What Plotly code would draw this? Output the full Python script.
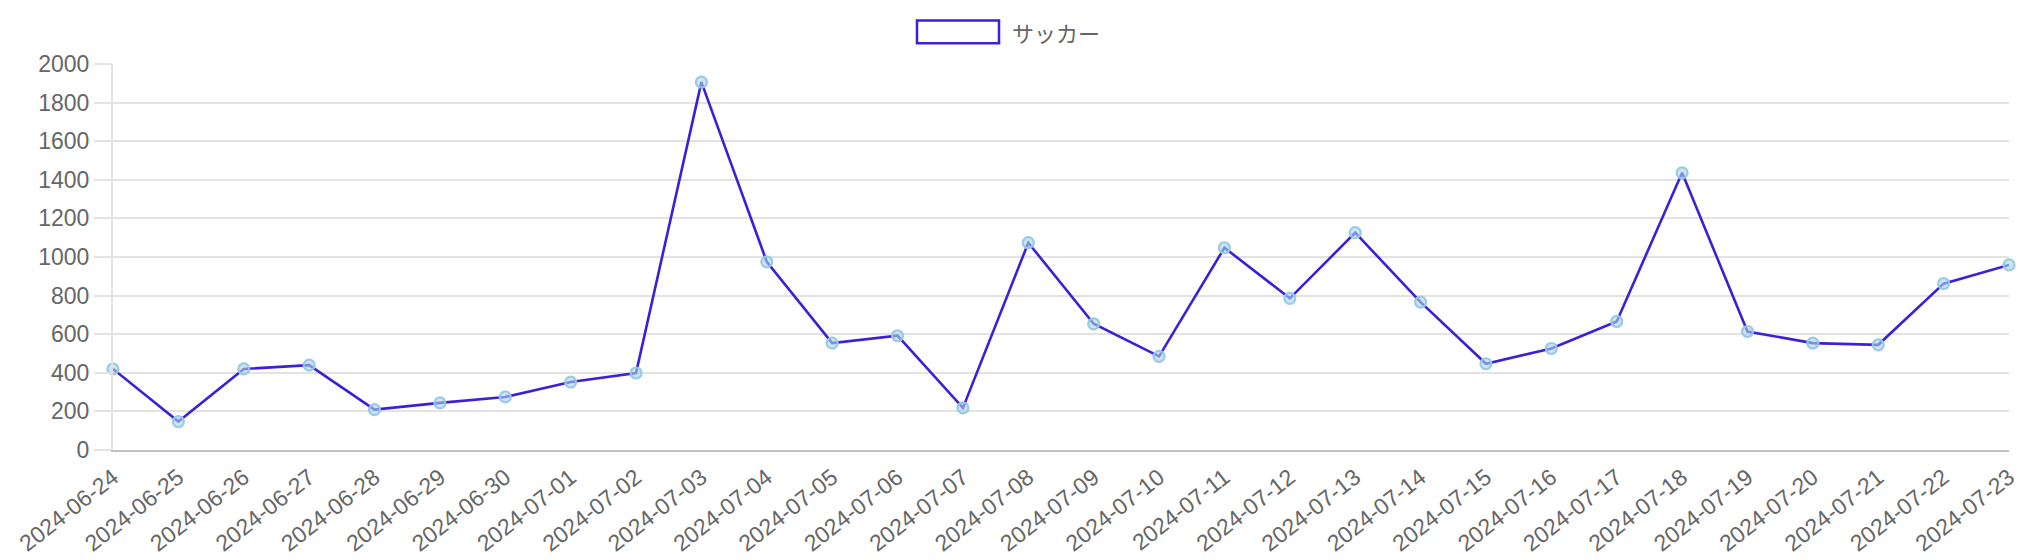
import plotly.graph_objects as go

dates = ["2024-06-24", "2024-06-25", "2024-06-26", "2024-06-27", "2024-06-28", "2024-06-29",
         "2024-06-30", "2024-07-01", "2024-07-02", "2024-07-03", "2024-07-04", "2024-07-05",
         "2024-07-06", "2024-07-07", "2024-07-08", "2024-07-09", "2024-07-10", "2024-07-11",
         "2024-07-12", "2024-07-13", "2024-07-14", "2024-07-15", "2024-07-16", "2024-07-17",
         "2024-07-18", "2024-07-19", "2024-07-20", "2024-07-21", "2024-07-22", "2024-07-23"]
soccer = [420, 147, 420, 440, 209, 244, 275, 352, 399, 1906, 975, 554,
          592, 218, 1074, 654, 485, 1048, 786, 1126, 766, 447, 526, 666,
          1436, 614, 554, 545, 862, 959]
series_name = "サッカー"
y_ticks = [0, 200, 400, 600, 800, 1000, 1200, 1400, 1600, 1800, 2000]

LINE = "#3a20d8"
FONT = "Liberation Sans, Arial, sans-serif"
TXT = "#666666"

fig = go.Figure()
fig.add_trace(go.Scatter(
    x=dates, y=soccer, name=series_name, mode="lines+markers",
    line=dict(color=LINE, width=2.6),
    marker=dict(size=11, color="rgba(170,212,235,0.6)",
                line=dict(color="rgba(150,200,228,0.95)", width=2.2)),
    cliponaxis=False, showlegend=False,
))

# legend (box + label), placed like the reference
fig.add_shape(type="rect", xref="paper", yref="paper",
              x0=(917 - 113) / 1896, x1=(999 - 113) / 1896,
              y0=(450.5 - 43) / 386.8, y1=(450.5 - 20) / 386.8,
              line=dict(color=LINE, width=2.5), fillcolor="rgba(255,255,255,0)")
fig.add_annotation(text=series_name, xref="paper", yref="paper",
                   x=(1010 - 113) / 1896, y=(450.5 - 31.5) / 386.8,
                   xanchor="left", yanchor="middle", showarrow=False,
                   font=dict(family="Noto Sans CJK JP, " + FONT, size=22, color=TXT))

fig.update_layout(
    width=2024, height=560,
    margin=dict(l=113, r=15, t=64, b=109.5),
    paper_bgcolor="white", plot_bgcolor="white",
    font=dict(family=FONT, size=22, color=TXT),
    showlegend=False,
)
fig.update_xaxes(
    type="category", range=[0, len(dates) - 1], automargin=False,
    tickangle=-38, tickfont=dict(size=23, color=TXT),
    showgrid=False, showline=True, linecolor="#c0c0c0", linewidth=2,
    ticks="outside", ticklen=3, tickcolor="rgba(0,0,0,0)",
    zeroline=False,
)
fig.update_yaxes(
    range=[0, 2000], tickvals=y_ticks, automargin=False,
    showgrid=True, gridcolor="#e3e3e3", gridwidth=2,
    showline=True, linecolor="#e3e3e3", linewidth=2,
    ticks="outside", ticklen=17, tickcolor="#e3e3e3", tickwidth=2,
    tickfont=dict(size=23, color=TXT), zeroline=False,
)

# remove the browser's default 8px page margin so the figure fills the window
fig.write_html("out.html", config={"displayModeBar": False},
               post_script="document.body.style.margin='0px';")
